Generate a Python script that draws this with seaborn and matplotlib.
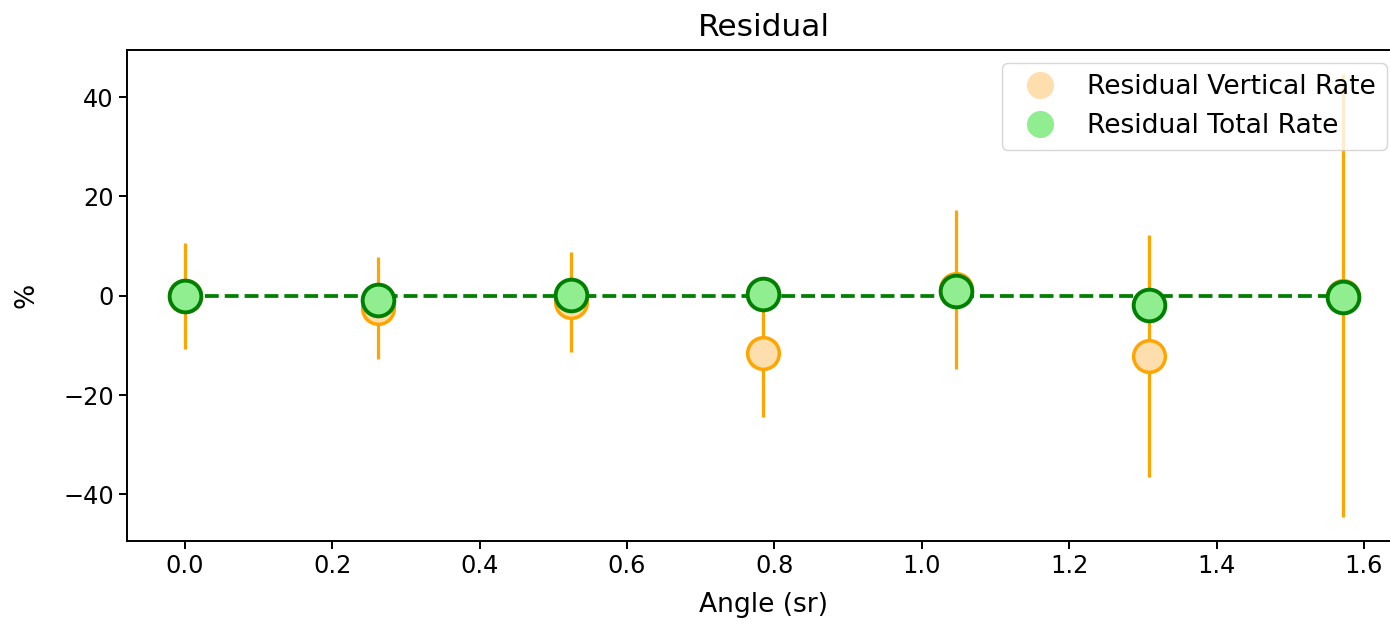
import matplotlib
matplotlib.use("Agg")
import matplotlib.pyplot as plt
from matplotlib.lines import Line2D
import seaborn as sns

# ---- data ----
angles = [0.0, 0.262, 0.524, 0.785, 1.047, 1.309, 1.571]
vertical_rate = [0.0, -2.5, -1.3, -11.6, 1.3, -12.2, 0.0]
vertical_err = [10.7, 10.3, 10.1, 12.8, 16.0, 24.4, 44.6]
total_rate = [0.0, -0.9, 0.2, 0.3, 0.9, -1.8, -0.2]
zero_line = [0.0, 0.0, 0.0, 0.0, 0.0, 0.0, 0.0]
series_labels = ["Residual Vertical Rate", "Residual Total Rate"]
y_ticks = [-40, -20, 0, 20, 40]
x_ticks = [0.0, 0.2, 0.4, 0.6, 0.8, 1.0, 1.2, 1.4, 1.6]

FS_TICK = 17.3
FS_LABEL = 19.1
FS_TITLE = 22.5
fig = plt.figure(figsize=(13.9, 6.25), dpi=100)
ax = fig.add_axes([127 / 1390, 84 / 625, 1273 / 1390, 491 / 625])

ax.errorbar(angles, vertical_rate, yerr=vertical_err, fmt="none",
            ecolor="orange", elinewidth=2.3, zorder=1)
sns.scatterplot(x=angles, y=vertical_rate, ax=ax, s=520, color="navajowhite",
                edgecolor="orange", linewidth=2.5, zorder=2, legend=False)
sns.lineplot(x=angles, y=zero_line, ax=ax, color="green", linestyle="--",
             linewidth=2.7, zorder=3, legend=False)
sns.scatterplot(x=angles, y=total_rate, ax=ax, s=520, color="lightgreen",
                edgecolor="green", linewidth=2.8, zorder=4, legend=False)

ax.set_xlim(-0.0785, 1.649)
ax.set_ylim(-49.4, 49.5)
ax.set_xticks(x_ticks)
ax.set_yticks(y_ticks)
ax.set_xticklabels([f"{t:.1f}" for t in x_ticks])
ax.set_yticklabels([f"{t:d}".replace("-", "\u2212") for t in y_ticks])
ax.tick_params(labelsize=FS_TICK, length=6, width=1.4)
for sp in ax.spines.values():
    sp.set_linewidth(1.4)

ax.set_title("Residual", fontsize=FS_TITLE, pad=10)
ax.set_xlabel("Angle (sr)", fontsize=FS_LABEL, labelpad=10)
ax.set_ylabel("%", fontsize=FS_LABEL, labelpad=17)

handles = [
    Line2D([], [], marker="o", linestyle="none", markersize=19.5,
           markerfacecolor="navajowhite", markeredgecolor="none"),
    Line2D([], [], marker="o", linestyle="none", markersize=19.5,
           markerfacecolor="lightgreen", markeredgecolor="none"),
]
ax.legend(handles, series_labels, loc="upper right", fontsize=FS_LABEL)

fig.savefig("out.png", dpi=100)
